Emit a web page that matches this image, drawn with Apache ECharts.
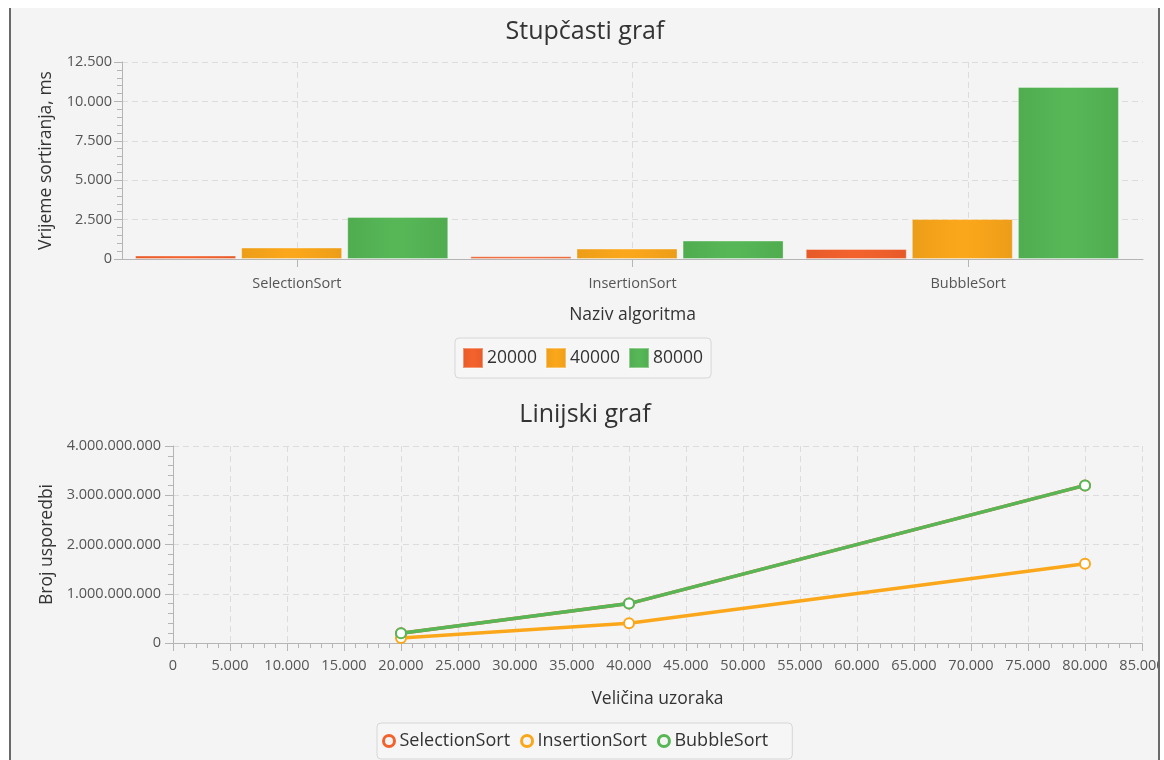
<!DOCTYPE html>
<html><head><meta charset="utf-8">
<script src="https://cdn.jsdelivr.net/npm/echarts@6/dist/echarts.min.js"></script>
<style>
html,body{margin:0;padding:0;background:#fff;width:1164px;height:760px;overflow:hidden;}
#frame{position:absolute;left:9px;top:8px;width:1149px;height:752px;background:#f4f4f4;border-left:2px solid #6a6a6a;}
#chart{position:absolute;left:0;top:0;width:1170px;height:760px;}
#rightedge{position:absolute;left:1158px;top:0;width:6px;height:760px;background:#fff;z-index:5;}
#rightedge::before{content:'';position:absolute;left:0;top:8px;width:2px;height:752px;background:#6a6a6a;}
</style></head>
<body><div id="frame"></div><div id="chart"></div><div id="rightedge"></div>
<script>
// Bar chart data (ms)
const algorithms = ['SelectionSort', 'InsertionSort', 'BubbleSort'];
const sizeNames = ['20000', '40000', '80000'];
const time20000 = [220, 170, 635];
const time40000 = [725, 660, 2540];
const time80000 = [2670, 1170, 10915];
// Line chart data (comparisons)
const sampleSizes = [20000, 40000, 80000];
const cmpSelection = [200000000, 800000000, 3200000000];
const cmpInsertion = [100000000, 400000000, 1610000000];
const cmpBubble = [200000000, 800000000, 3200000000];

const colors = ['#f3622d', '#fba71b', '#57b757'];
const edgeColors = ['#e65a28', '#ec9d18', '#4fac4f'];
const FONT = 'Open Sans';
const fmt = v => String(v).replace(/\B(?=(\d{3})+(?!\d))/g, '.');

function grad(i) {
  return new echarts.graphic.LinearGradient(0, 0, 1, 0, [
    {offset: 0, color: edgeColors[i]},
    {offset: 0.45, color: colors[i]},
    {offset: 0.55, color: colors[i]},
    {offset: 1, color: edgeColors[i]}
  ]);
}

const AX = '#b5b5b5';
const splitDashed = {show: true, lineStyle: {color: '#dcdcdc', type: [6, 4], width: 1}};
const tickLabel = {color: '#555', fontFamily: FONT, fontSize: 14.5};
const nameStyle = {color: '#333', fontFamily: FONT, fontSize: 17.5};
const hidden = {show: false};

const barData = [time20000, time40000, time80000];
const lineData = [cmpSelection, cmpInsertion, cmpBubble];

const chart = echarts.init(document.getElementById('chart'), null, {renderer: 'canvas'});
chart.setOption({
  animation: false,
  backgroundColor: 'transparent',
  title: [
    {text: 'Stupčasti graf', left: 'center', top: 14, textStyle: {fontFamily: FONT, fontSize: 25, fontWeight: 'normal', color: '#333'}},
    {text: 'Linijski graf', left: 'center', top: 397, textStyle: {fontFamily: FONT, fontSize: 25, fontWeight: 'normal', color: '#333'}}
  ],
  legend: [
    {
      data: sizeNames.map(n => ({name: n, icon: 'rect'})),
      left: 455, top: 338,
      itemWidth: 20, itemHeight: 20, itemGap: 8,
      padding: [9, 8, 9, 7],
      backgroundColor: '#f6f6f6', borderColor: '#d6d6d6', borderWidth: 1, borderRadius: 4,
      textStyle: {fontFamily: FONT, fontSize: 17.5, color: '#333', padding: [0, 0, 0, -1]},
      selectedMode: false
    },
    {
      data: algorithms.map((n, i) => ({name: n, icon: 'circle', itemStyle: {color: '#f4f4f4', borderColor: colors[i], borderWidth: 3}})),
      left: 377, top: 723,
      itemWidth: 11, itemHeight: 11, itemGap: 10,
      padding: [9, 24, 9, 5],
      backgroundColor: '#f6f6f6', borderColor: '#d6d6d6', borderWidth: 1, borderRadius: 4,
      textStyle: {fontFamily: FONT, fontSize: 18, color: '#333'},
      selectedMode: false
    }
  ],
  grid: [
    // 0: bar chart frame (value axis, horizontal grid lines, axis line)
    {left: 122, top: 62, width: 1021, height: 197},
    // 1: line chart
    {left: 173, top: 446, width: 969, height: 197},
    // 2: category ticks / labels / vertical grid lines of bar chart
    {left: 129, top: 62, width: 1007, height: 197},
    // 3: bars
    {left: 124, top: 62, width: 1006, height: 197}
  ],
  xAxis: [
    {
      gridIndex: 0, type: 'category', data: algorithms,
      axisLine: {show: true, lineStyle: {color: AX}},
      axisTick: hidden, axisLabel: hidden, splitLine: hidden
    },
    {
      gridIndex: 1, type: 'value', min: 0, max: 85000, interval: 5000,
      name: 'Veličina uzoraka', nameLocation: 'middle', nameGap: 47, nameTextStyle: nameStyle,
      axisLine: {show: true, lineStyle: {color: AX}},
      axisTick: {show: true, length: 8, lineStyle: {color: AX}},
      minorTick: {show: true, splitNumber: 5, length: 5, lineStyle: {color: AX}},
      axisLabel: Object.assign({margin: 15, formatter: fmt}, tickLabel),
      splitLine: splitDashed
    },
    {
      gridIndex: 2, type: 'category', data: algorithms,
      name: 'Naziv algoritma', nameLocation: 'middle', nameGap: 47, nameTextStyle: nameStyle,
      axisLine: hidden,
      axisTick: {show: true, alignWithLabel: true, length: 8, lineStyle: {color: AX}},
      axisLabel: Object.assign({margin: 17}, tickLabel),
      splitLine: Object.assign({alignWithLabel: true}, splitDashed)
    },
    {
      gridIndex: 3, type: 'category', data: algorithms,
      axisLine: hidden, axisTick: hidden, axisLabel: hidden, splitLine: hidden
    }
  ],
  yAxis: [
    {
      gridIndex: 0, type: 'value', min: 0, max: 12500, interval: 2500,
      name: 'Vrijeme sortiranja, ms', nameLocation: 'middle', nameGap: 67, nameTextStyle: nameStyle,
      axisLine: {show: true, lineStyle: {color: AX}},
      axisTick: {show: true, length: 8, lineStyle: {color: AX}},
      minorTick: {show: true, splitNumber: 5, length: 5, lineStyle: {color: AX}},
      axisLabel: Object.assign({margin: 10, formatter: fmt}, tickLabel),
      splitLine: splitDashed
    },
    {
      gridIndex: 1, type: 'value', min: 0, max: 4000000000, interval: 1000000000,
      name: 'Broj usporedbi', nameLocation: 'middle', nameGap: 117, nameTextStyle: nameStyle,
      axisLine: {show: true, lineStyle: {color: AX}},
      axisTick: {show: true, length: 8, lineStyle: {color: AX}},
      minorTick: {show: true, splitNumber: 5, length: 5, lineStyle: {color: AX}},
      axisLabel: Object.assign({margin: 12, formatter: fmt}, tickLabel),
      splitLine: splitDashed
    },
    {
      gridIndex: 2, type: 'value', min: 0, max: 12500,
      axisLine: hidden, axisTick: hidden, axisLabel: hidden, splitLine: hidden
    },
    {
      gridIndex: 3, type: 'value', min: 0, max: 12500,
      axisLine: hidden, axisTick: hidden, axisLabel: hidden, splitLine: hidden
    }
  ],
  series: [
    ...sizeNames.map((n, i) => ({
      name: n, type: 'bar', xAxisIndex: 3, yAxisIndex: 3,
      data: barData[i],
      barGap: '5%', barCategoryGap: '6.6%',
      itemStyle: {color: grad(i), borderColor: 'rgba(255,255,255,0.35)', borderWidth: 1}
    })),
    ...algorithms.map((n, i) => ({
      name: n, type: 'line', xAxisIndex: 1, yAxisIndex: 1,
      data: sampleSizes.map((x, j) => [x, lineData[i][j]]),
      symbol: 'emptyCircle', symbolSize: 10,
      lineStyle: {width: 3.5, color: colors[i]},
      itemStyle: {color: colors[i], borderWidth: 2.5, borderColor: colors[i]},
      z: 2 + i
    }))
  ]
});
</script>
</body></html>
